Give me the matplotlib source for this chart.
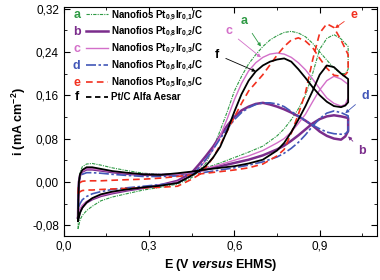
import numpy as np
import matplotlib.pyplot as plt
from matplotlib.lines import Line2D
from matplotlib.ticker import MultipleLocator, FuncFormatter

plt.rcParams['font.family'] = ['Liberation Sans', 'DejaVu Sans']
plt.rcParams['mathtext.fontset'] = 'custom'
plt.rcParams['mathtext.rm'] = 'Liberation Sans:bold'
plt.rcParams['mathtext.it'] = 'Liberation Sans:bold:italic'
plt.rcParams['mathtext.bf'] = 'Liberation Sans:bold'

# potential grids (V vs EHMS): forward scan 0.05 -> 1.0, backward 1.0 -> 0.05
E_fwd = [0.05, 0.051, 0.053, 0.057, 0.065, 0.08, 0.1, 0.13, 0.17, 0.22, 0.28, 0.34, 0.40, 0.45,
         0.50, 0.55, 0.60, 0.65, 0.70, 0.75, 0.775, 0.80, 0.825, 0.85, 0.875, 0.90, 0.925, 0.95,
         0.975, 1.0]
E_bwd = [1.0, 0.99, 0.975, 0.95, 0.925, 0.90, 0.875, 0.85, 0.825, 0.80, 0.775, 0.75, 0.725, 0.70,
         0.675, 0.65, 0.625, 0.60, 0.575, 0.55, 0.525, 0.50, 0.475, 0.45, 0.40, 0.34, 0.28, 0.22,
         0.17, 0.13, 0.10, 0.08, 0.065, 0.057, 0.05]

# current density (mA cm-2)
a_fwd = [-0.087, -0.04, 0.0, 0.018, 0.028, 0.033, 0.034, 0.031, 0.026, 0.021, 0.016, 0.014, 0.014,
         0.018, 0.026, 0.035, 0.045, 0.055, 0.066, 0.085, 0.098, 0.115, 0.135, 0.16, 0.2, 0.245,
         0.265, 0.272, 0.264, 0.25]
a_bwd = [0.208, 0.2, 0.2, 0.21, 0.225, 0.24, 0.256, 0.268, 0.275, 0.278, 0.276, 0.27, 0.262,
         0.25, 0.235, 0.218, 0.195, 0.168, 0.13, 0.095, 0.062, 0.035, 0.02, 0.008, -0.004, -0.01,
         -0.015, -0.022, -0.028, -0.035, -0.045, -0.053, -0.062, -0.07, -0.087]

b_fwd = [-0.066, -0.028, 0.0, 0.012, 0.019, 0.023, 0.023, 0.021, 0.018, 0.015, 0.013, 0.013, 0.014,
         0.017, 0.023, 0.029, 0.035, 0.041, 0.049, 0.06, 0.067, 0.076, 0.086, 0.097, 0.108, 0.116,
         0.121, 0.123, 0.121, 0.118]
b_bwd = [0.094, 0.084, 0.078, 0.08, 0.085, 0.093, 0.104, 0.113, 0.121, 0.128, 0.134, 0.139, 0.143,
         0.146, 0.144, 0.139, 0.132, 0.12, 0.104, 0.085, 0.065, 0.048, 0.032, 0.017, 0.002, -0.006,
         -0.011, -0.016, -0.021, -0.026, -0.032, -0.038, -0.046, -0.054, -0.066]

c_fwd = [-0.062, -0.025, 0.0, 0.012, 0.02, 0.024, 0.024, 0.022, 0.019, 0.016, 0.014, 0.013, 0.014,
         0.017, 0.025, 0.032, 0.04, 0.048, 0.058, 0.072, 0.08, 0.092, 0.108, 0.125, 0.148, 0.17,
         0.187, 0.195, 0.19, 0.18]
c_bwd = [0.155, 0.143, 0.14, 0.145, 0.155, 0.172, 0.19, 0.207, 0.22, 0.23, 0.236, 0.238, 0.236,
         0.23, 0.22, 0.205, 0.182, 0.152, 0.117, 0.085, 0.06, 0.04, 0.025, 0.012, 0.0, -0.006,
         -0.01, -0.015, -0.02, -0.025, -0.031, -0.036, -0.043, -0.05, -0.062]

d_fwd = [-0.05, -0.02, 0.0, 0.009, 0.014, 0.017, 0.017, 0.016, 0.014, 0.012, 0.01, 0.01, 0.011,
         0.014, 0.018, 0.022, 0.026, 0.031, 0.037, 0.046, 0.053, 0.062, 0.073, 0.087, 0.103, 0.117,
         0.127, 0.131, 0.128, 0.122]
d_bwd = [0.093, 0.089, 0.088, 0.089, 0.092, 0.098, 0.105, 0.113, 0.122, 0.13, 0.139, 0.144, 0.146,
         0.146, 0.143, 0.137, 0.128, 0.115, 0.098, 0.08, 0.06, 0.042, 0.026, 0.011, -0.002, -0.005,
         -0.008, -0.011, -0.014, -0.018, -0.022, -0.027, -0.033, -0.04, -0.05]

e_fwd = [-0.022, -0.012, -0.005, -0.001, 0.001, 0.002, 0.002, 0.002, 0.003, 0.004, 0.005, 0.007,
         0.01, 0.013, 0.016, 0.019, 0.022, 0.026, 0.033, 0.048, 0.06, 0.09, 0.125, 0.165, 0.225,
         0.275, 0.292, 0.285, 0.262, 0.235]
e_bwd = [0.204, 0.198, 0.195, 0.197, 0.21, 0.228, 0.248, 0.26, 0.266, 0.262, 0.25, 0.234, 0.216,
         0.198, 0.183, 0.168, 0.145, 0.12, 0.094, 0.068, 0.045, 0.027, 0.013, 0.005, -0.008, -0.01,
         -0.011, -0.012, -0.013, -0.014, -0.015, -0.015, -0.016, -0.018, -0.022]

f_fwd = [-0.072, -0.03, 0.0, 0.014, 0.022, 0.027, 0.027, 0.024, 0.02, 0.017, 0.014, 0.013, 0.016,
         0.019, 0.023, 0.026, 0.029, 0.034, 0.041, 0.058, 0.072, 0.092, 0.115, 0.14, 0.168, 0.198,
         0.215, 0.212, 0.2, 0.19]
f_bwd = [0.147, 0.141, 0.138, 0.14, 0.148, 0.16, 0.175, 0.192, 0.208, 0.222, 0.228, 0.226, 0.222,
         0.215, 0.204, 0.187, 0.162, 0.13, 0.095, 0.065, 0.045, 0.03, 0.02, 0.012, -0.002, -0.007,
         -0.01, -0.014, -0.018, -0.023, -0.03, -0.038, -0.048, -0.057, -0.072]

letters = ['a', 'b', 'c', 'd', 'e', 'f']
names = [r'Nanofios Pt$_{0{,}9}$Ir$_{0{,}1}$/C', r'Nanofios Pt$_{0{,}8}$Ir$_{0{,}2}$/C',
         r'Nanofios Pt$_{0{,}7}$Ir$_{0{,}3}$/C', r'Nanofios Pt$_{0{,}6}$Ir$_{0{,}4}$/C',
         r'Nanofios Pt$_{0{,}5}$Ir$_{0{,}5}$/C', 'Pt/C Alfa Aesar']
colors = ['#2f9a45', '#7b2d8c', '#d36fc9', '#4257b8', '#f2301f', 'black']
styles = [(0, (3, 1, 1, 1)), '-', '-', (0, (6, 1.5, 1.5, 1.5)), (0, (4, 2.5)), '-']
widths = [0.8, 1.8, 1.0, 1.2, 1.2, 1.3]
fwd = [a_fwd, b_fwd, c_fwd, d_fwd, e_fwd, f_fwd]
bwd = [a_bwd, b_bwd, c_bwd, d_bwd, e_bwd, f_bwd]

# letter annotations: (text position, arrow tip)
notes = {'a': ((0.634, 0.297), (0.693, 0.25)),
         'c': ((0.58, 0.278), (0.693, 0.23)),
         'f': ((0.539, 0.235), (0.675, 0.204)),
         'e': ((1.02, 0.309), (0.954, 0.284)),
         'd': ((1.06, 0.158), (0.99, 0.127)),
         'b': ((1.05, 0.057), (1.0, 0.084))}

fig = plt.figure(figsize=(3.8, 2.8), dpi=100)
ax = fig.add_axes([0.168, 0.157, 0.823, 0.819])

handles = []
for i in range(6):
    E = np.concatenate([E_fwd, E_bwd])
    cur = np.concatenate([fwd[i], bwd[i]])
    ax.plot(E, cur, color=colors[i], ls=styles[i], lw=widths[i])
    ls = (0, (3, 2)) if letters[i] == 'f' else styles[i]
    handles.append(Line2D([], [], color=colors[i], ls=ls, lw=widths[i]))

for i, k in enumerate(letters):
    (tx, ty), (px, py) = notes[k]
    ax.annotate(k, xy=(px, py), xytext=(tx, ty), color=colors[i], fontsize=9,
                fontweight='bold', ha='center', va='center',
                arrowprops=dict(arrowstyle='-|>', color=colors[i], lw=0.6,
                                mutation_scale=5, shrinkA=3, shrinkB=0))

leg = ax.legend(handles, names, loc='upper left', bbox_to_anchor=(0.072, 0.995),
                frameon=False, fontsize=7, handlelength=2.2, handletextpad=0.3,
                labelspacing=0.22, borderpad=0, borderaxespad=0)
for t in leg.get_texts():
    t.set_fontweight('bold')

fig.canvas.draw()
for i, k in enumerate(letters):
    bb = leg.get_texts()[i].get_window_extent()
    y = ax.transAxes.inverted().transform((0, (bb.y0 + bb.y1) / 2))[1]
    ax.text(0.041, y, k, transform=ax.transAxes, color=colors[i], fontsize=9,
            fontweight='bold', ha='center', va='center')

ax.set_xlim(0, 1.1)
ax.set_ylim(-0.1, 0.3235)
ax.xaxis.set_major_locator(MultipleLocator(0.3))
ax.xaxis.set_minor_locator(MultipleLocator(0.15))
ax.yaxis.set_major_locator(MultipleLocator(0.08))
ax.yaxis.set_minor_locator(MultipleLocator(0.04))
ax.xaxis.set_major_formatter(FuncFormatter(lambda v, p: f'{v:.1f}'.replace('.', ',')))
ax.yaxis.set_major_formatter(FuncFormatter(lambda v, p: f'{v:.2f}'.replace('.', ',').replace('-0,00', '0,00')))
ax.tick_params(which='both', direction='in', top=True, right=True, labelsize=8.5)
ax.tick_params(which='major', length=4)
ax.tick_params(which='minor', length=2.5)

ax.set_xlabel(r'E (V $\it{versus}$ EHMS)', fontsize=9, fontweight='bold', labelpad=3)
ax.set_ylabel(r'i (mA cm$^{-2}$)', fontsize=9, fontweight='bold', labelpad=3)

fig.savefig('out.png', dpi=100)
